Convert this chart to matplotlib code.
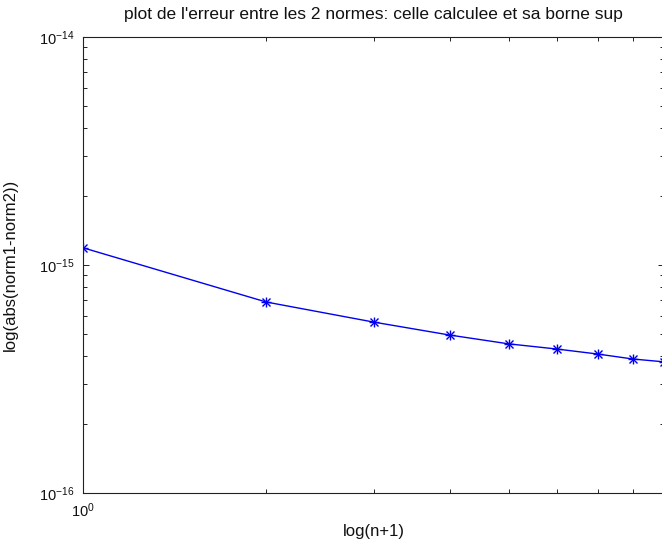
import numpy as np
import matplotlib.pyplot as plt
from matplotlib.ticker import LogLocator, NullFormatter, FixedLocator

# values (x = n+1)
x_vals = [1, 2, 3, 4, 5, 6, 7, 8, 9]
err_vals = [1.19e-15, 6.88e-16, 5.62e-16, 4.93e-16, 4.51e-16,
            4.28e-16, 4.07e-16, 3.87e-16, 3.76e-16]
y_major = [1e-16, 1e-15, 1e-14]
x_major = [1]

TITLE = "plot de l'erreur entre les 2 normes: celle calculee et sa borne sup"
XLABEL = "log(n+1)"
YLABEL = "log(abs(norm1-norm2))"

plt.rcParams['font.family'] = ['Liberation Sans', 'DejaVu Sans']
plt.rcParams['mathtext.fontset'] = 'custom'
plt.rcParams['mathtext.rm'] = 'Liberation Sans'

W, H = 662, 550
fig = plt.figure(figsize=(W / 100, H / 100), dpi=100, facecolor='white')
# axes spans px 83..664 horizontally (right spine just off the picture), 37..493 vertically
ax = fig.add_axes([83 / W, (H - 493) / H, (664 - 83) / W, (493 - 37) / H])

# matlab-style '*' marker = '+' over 'x'
ax.loglog(x_vals, err_vals, '-+', color='#0000ee', lw=1.0,
          markersize=7.5, markeredgewidth=1.0)
ax.loglog(x_vals, err_vals, 'x', color='#0000ee',
          markersize=5.5, markeredgewidth=1.0)

ax.set_xlim(1, 9)
ax.set_ylim(1e-16, 1e-14)

ax.xaxis.set_major_locator(FixedLocator(x_major))
ax.yaxis.set_major_locator(FixedLocator(y_major))
ax.xaxis.set_minor_formatter(NullFormatter())
ax.yaxis.set_minor_locator(LogLocator(base=10, subs=np.arange(2, 10)))
ax.yaxis.set_minor_formatter(NullFormatter())

ax.tick_params(which='both', direction='in', top=True, right=True,
               colors='#222222', labelcolor='#111111', labelsize=10.5)
ax.tick_params(which='major', length=4.5, width=0.7, pad=6)
ax.tick_params(which='minor', length=2.6, width=0.7)
for sp in ax.spines.values():
    sp.set_color('#222222')
    sp.set_linewidth(0.8)

ax.set_title(TITLE, fontsize=12.5, pad=13, color='#111111')
ax.set_xlabel(XLABEL, fontsize=12, color='#111111', labelpad=3)
ax.set_ylabel(YLABEL, fontsize=12, color='#111111')
ax.yaxis.set_label_coords(-0.112, 0.5)

fig.savefig('out.png', dpi=100, facecolor='white')
